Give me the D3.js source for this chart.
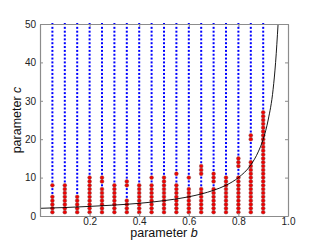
<!DOCTYPE html>
<html>
<head>
<meta charset="utf-8">
<script src="https://cdn.jsdelivr.net/npm/d3@7"></script>
<style>
  body { margin: 0; background: #fff; }
  svg { display: block; font-family: "Liberation Sans", Arial, sans-serif; }
</style>
</head>
<body>
<svg></svg>
<script>
const width = 320;
const height = 240;

// Grid of b values tested (one column each)
const bValues = [0.05, 0.10, 0.15, 0.20, 0.25, 0.30, 0.35, 0.40, 0.45,
                 0.50, 0.55, 0.60, 0.65, 0.70, 0.75, 0.80, 0.85, 0.90];

// c values tested in every column
const cValues = [1, 2, 3, 4, 5, 6, 7, 8, 9, 10, 11, 12, 13, 14, 15, 16, 17, 18, 19, 20,
                 21, 22, 23, 24, 25, 26, 27, 28, 29, 30, 31, 32, 33, 34, 35, 36, 37, 38, 39, 40,
                 41, 42, 43, 44, 45, 46, 47, 48, 49, 50];

// c values marked red, per column (same order as bValues)
const redC = [
    [1, 2, 3, 4, 5, 8],
    [1, 2, 3, 4, 5, 6, 7, 8],
    [1, 2, 3, 4, 5],
    [1, 2, 3, 4, 5, 6, 7, 8, 9, 10],
    [1, 2, 3, 4, 5, 6, 7, 9, 10],
    [1, 2, 3, 4, 5, 6, 7, 8],
    [1, 2, 3, 4, 8, 9],
    [1, 2, 3, 4, 5, 6, 7, 8],
    [1, 2, 3, 4, 5, 6, 7, 8, 10],
    [1, 2, 3, 4, 5, 6, 7, 8, 9, 10],
    [1, 2, 3, 4, 5, 6, 7, 8, 11],
    [1, 2, 3, 4, 5, 6, 7, 10],
    [1, 2, 3, 4, 5, 6, 7, 11, 12, 13],
    [1, 2, 3, 4, 5, 6, 7, 9, 10, 11],
    [1, 2, 3, 4, 5, 6, 7, 8, 9, 10],
    [1, 2, 3, 4, 5, 6, 7, 8, 9, 10, 13, 14, 15],
    [1, 2, 3, 4, 5, 6, 7, 8, 9, 10, 11, 12, 13, 14, 20, 21],
    [1, 2, 3, 4, 5, 6, 7, 8, 9, 10, 11, 12, 13, 14, 15, 16, 17, 18, 19, 20,
     21, 22, 23, 24, 25, 26, 27]
];

// Boundary curve, points
const curveB = [0, 0.1, 0.2, 0.3, 0.4, 0.5, 0.6, 0.7, 0.75, 0.8, 0.85, 0.88, 0.9, 0.92, 0.94, 0.95, 0.96];
const curveC = [2, 2.2, 2.5, 2.85, 3.3, 4, 5, 6.7, 8, 10, 13.3, 16.7, 20, 25, 33, 40, 50];

const xTicks = [0.2, 0.4, 0.6, 0.8, 1.0];
const yTicks = [0, 10, 20, 30, 40, 50];

const margin = {top: 24, right: 32, bottom: 24, left: 40};

const svg = d3.select("svg")
    .attr("width", width)
    .attr("height", height);

const x = d3.scaleLinear()
    .domain([0, 1])
    .range([margin.left, width - margin.right]);

const y = d3.scaleLinear()
    .domain([0, 50])
    .range([height - margin.bottom, margin.top]);

const axisColor = "#8c8c8c";

// Blue grid dots
const grid = [];
bValues.forEach((b, i) => {
    cValues.forEach(c => {
        if (!redC[i].includes(c)) grid.push({b, c});
    });
});

svg.append("g")
    .selectAll("rect")
    .data(grid)
    .enter().append("rect")
    .attr("x", d => x(d.b) - 1)
    .attr("y", d => y(d.c) - 1)
    .attr("width", 2)
    .attr("height", 2)
    .attr("fill", "#0000ff");

// Red points
const reds = [];
bValues.forEach((b, i) => {
    redC[i].forEach(c => reds.push({b, c}));
});

svg.append("g")
    .selectAll("circle")
    .data(reds)
    .enter().append("circle")
    .attr("cx", d => x(d.b))
    .attr("cy", d => y(d.c))
    .attr("r", 1.9)
    .attr("fill", "#f00000")
    .attr("stroke", "#8a4a4a")
    .attr("stroke-width", 0.5);

// Boundary curve
const curvePts = curveB.map((b, i) => [b, curveC[i]]);
svg.append("defs").append("clipPath")
    .attr("id", "plot-clip")
    .append("rect")
    .attr("x", margin.left)
    .attr("y", margin.top)
    .attr("width", width - margin.left - margin.right)
    .attr("height", height - margin.top - margin.bottom);

svg.append("path")
    .datum(curvePts)
    .attr("clip-path", "url(#plot-clip)")
    .attr("fill", "none")
    .attr("stroke", "#000")
    .attr("stroke-width", 0.9)
    .attr("d", d3.line()
        .x(d => x(d[0]))
        .y(d => y(d[1]))
        .curve(d3.curveMonotoneX));

// Axes (MATLAB style: box, inward ticks)
svg.append("g")
    .attr("transform", `translate(0,${height - margin.bottom})`)
    .call(d3.axisBottom(x).tickValues(xTicks).tickFormat(d3.format(".1f")).tickSizeInner(-3).tickSizeOuter(0).tickPadding(2));

svg.append("g")
    .attr("transform", `translate(${margin.left},0)`)
    .call(d3.axisLeft(y).tickValues(yTicks).tickSizeInner(-3).tickSizeOuter(0).tickPadding(4));

svg.append("g")
    .attr("transform", `translate(0,${margin.top})`)
    .call(d3.axisTop(x).tickValues(xTicks).tickFormat("").tickSizeInner(-3).tickSizeOuter(0));

svg.append("g")
    .attr("transform", `translate(${width - margin.right},0)`)
    .call(d3.axisRight(y).tickValues(yTicks).tickFormat("").tickSizeInner(-3).tickSizeOuter(0));

svg.selectAll(".domain").attr("stroke", axisColor).attr("stroke-width", 1.2);
svg.selectAll(".tick line").attr("stroke", axisColor);
svg.selectAll(".tick text")
    .attr("fill", "#222")
    .style("font-size", "10px");

// Axis labels
const xLabel = svg.append("text")
    .attr("x", x(0.5))
    .attr("y", 237)
    .attr("text-anchor", "middle")
    .style("font-size", "12.5px")
    .attr("fill", "#111")
    .text("parameter ");
xLabel.append("tspan").style("font-style", "italic").text("b");

const yLabel = svg.append("text")
    .attr("transform", `translate(21,${y(25)}) rotate(-90)`)
    .attr("text-anchor", "middle")
    .style("font-size", "12.5px")
    .attr("fill", "#111")
    .text("parameter ");
yLabel.append("tspan").style("font-style", "italic").text("c");
</script>
</body>
</html>
